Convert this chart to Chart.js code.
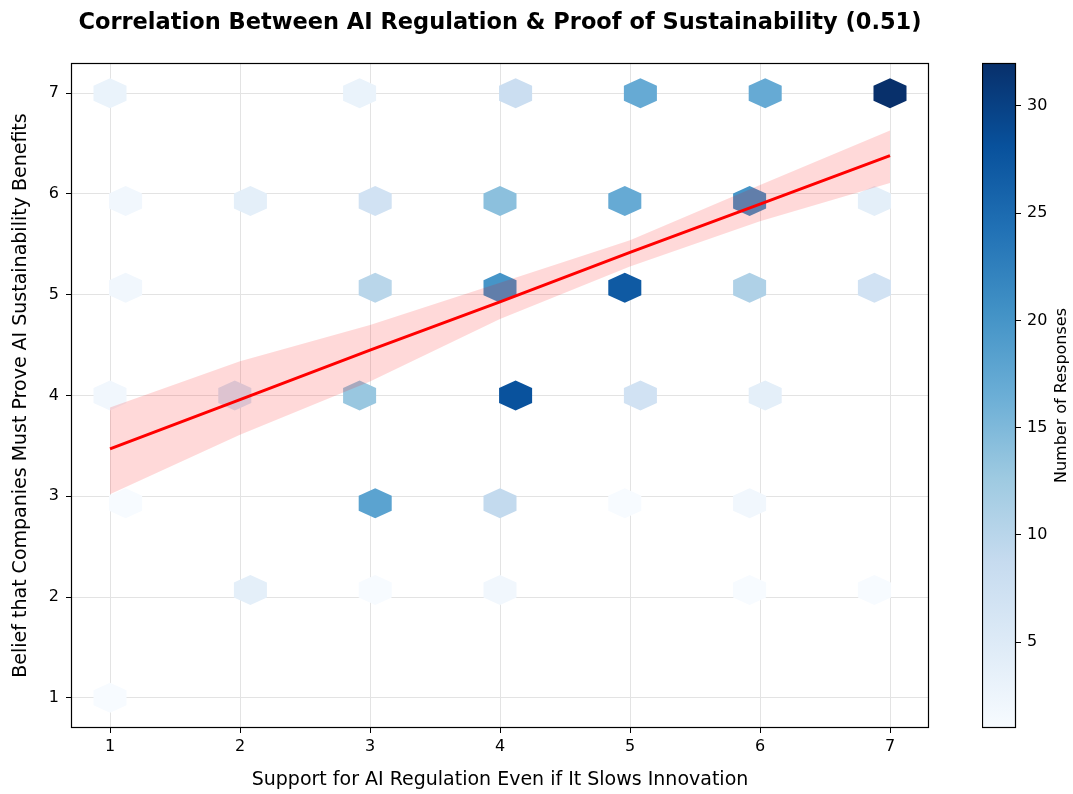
<!DOCTYPE html>
<html>
<head>
<meta charset="utf-8">
<script src="https://cdn.jsdelivr.net/npm/chart.js@4.4.1/dist/chart.umd.min.js"></script>
<style>
  html, body { margin: 0; padding: 0; background: #fff; }
  #wrap { position: relative; width: 1073px; height: 794px; }
  #main { position: absolute; left: 0; top: 0; width: 1073px; height: 794px; }
  #cbar { position: absolute; left: 982px; top: 0; width: 91px; height: 794px; }
</style>
</head>
<body>
<div id="wrap">
  <div id="main"><canvas id="chartHex"></canvas></div>
  <div id="cbar"><canvas id="chartBar"></canvas></div>
</div>
<script>
// valores
const xTicks = [1, 2, 3, 4, 5, 6, 7];
const yTicks = [1, 2, 3, 4, 5, 6, 7];
const cbarTicks = [5, 10, 15, 20, 25, 30];
const countMin = 1;
const countMax = 32;

// centros de los hexagonos y numero de respuestas
const hexX = [1.00, 2.92, 4.12, 5.08, 6.04, 7.00,
              1.12, 2.08, 3.04, 4.00, 4.96, 5.92, 6.88,
              1.12, 3.04, 4.00, 4.96, 5.92, 6.88,
              1.00, 1.96, 2.92, 4.12, 5.08, 6.04,
              1.12, 3.04, 4.00, 4.96, 5.92,
              2.08, 3.04, 4.00, 5.92, 6.88,
              1.00];
const hexY = [7.00, 7.00, 7.00, 7.00, 7.00, 7.00,
              5.93, 5.93, 5.93, 5.93, 5.93, 5.93, 5.93,
              5.07, 5.07, 5.07, 5.07, 5.07, 5.07,
              4.00, 4.00, 4.00, 4.00, 4.00, 4.00,
              2.93, 2.93, 2.93, 2.93, 2.93,
              2.07, 2.07, 2.07, 2.07, 2.07,
              1.00];
const hexCount = [3, 3, 8, 17, 17, 32,
                  2, 4, 7, 14, 17, 20, 4,
                  2, 10, 20, 27, 11, 7,
                  2, 6, 13, 28, 7, 4,
                  1, 18, 9, 1, 2,
                  4, 1, 2, 1, 1,
                  1];

// recta de regresion y banda de confianza
const fitX = [1, 2, 3, 4, 5, 6, 7];
const fitY = [3.47, 3.96, 4.45, 4.93, 5.42, 5.90, 6.38];
const fitUpper = [3.88, 4.34, 4.70, 5.12, 5.54, 6.09, 6.63];
const fitLower = [3.02, 3.61, 4.14, 4.76, 5.28, 5.73, 6.11];

Chart.defaults.font.family = "'DejaVu Sans', sans-serif";
Chart.defaults.color = "#000";

// mapa de color Blues
const blues = ["#f7fbff", "#deebf7", "#c6dbef", "#9ecae1", "#6baed6", "#4292c6", "#2171b5", "#08519c", "#08306b"];
function hexToRgb(h) {
  return [parseInt(h.slice(1, 3), 16), parseInt(h.slice(3, 5), 16), parseInt(h.slice(5, 7), 16)];
}
function bluesAt(v) {
  let t = (v - countMin) / (countMax - countMin);
  t = Math.max(0, Math.min(1, t)) * (blues.length - 1);
  const i = Math.min(Math.floor(t), blues.length - 2);
  const f = t - i;
  const a = hexToRgb(blues[i]), b = hexToRgb(blues[i + 1]);
  const c = a.map((ch, k) => Math.round(ch + (b[k] - ch) * f));
  return `rgb(${c[0]},${c[1]},${c[2]})`;
}

// tamaño del hexagono en unidades de datos
const HW = 0.127, HT = 0.149, HS = 0.074;

const hexPlugin = {
  id: "hexPlugin",
  beforeDatasetsDraw(chart) {
    const { ctx, chartArea, scales: { x, y } } = chart;
    ctx.save();
    ctx.beginPath();
    ctx.rect(chartArea.left, chartArea.top, chartArea.right - chartArea.left, chartArea.bottom - chartArea.top);
    ctx.clip();
    hexX.forEach((cx, i) => {
      const cy = hexY[i];
      const pts = [[cx, cy + HT], [cx + HW, cy + HS], [cx + HW, cy - HS],
                   [cx, cy - HT], [cx - HW, cy - HS], [cx - HW, cy + HS]];
      ctx.beginPath();
      pts.forEach((p, k) => {
        const px = x.getPixelForValue(p[0]), py = y.getPixelForValue(p[1]);
        if (k === 0) ctx.moveTo(px, py); else ctx.lineTo(px, py);
      });
      ctx.closePath();
      ctx.fillStyle = bluesAt(hexCount[i]);
      ctx.fill();
    });
    ctx.restore();
  }
};

const framePlugin = {
  id: "framePlugin",
  afterDraw(chart) {
    const { ctx, chartArea: a } = chart;
    ctx.save();
    ctx.strokeStyle = "#000";
    ctx.lineWidth = 1.2;
    ctx.strokeRect(Math.round(a.left) + 0.5, Math.round(a.top) + 0.5,
                   Math.round(a.right - a.left) - 1, Math.round(a.bottom - a.top) - 1);
    ctx.restore();
  }
};

new Chart(document.getElementById("chartHex"), {
  type: "scatter",
  data: {
    datasets: [
      {
        type: "line",
        label: "Regresión",
        data: fitX.map((v, i) => ({ x: v, y: fitY[i] })),
        borderColor: "#ff0000",
        borderWidth: 3,
        pointRadius: 0,
        fill: false
      },
      {
        type: "line",
        label: "IC superior",
        data: fitX.map((v, i) => ({ x: v, y: fitUpper[i] })),
        borderWidth: 0,
        borderColor: "rgba(0,0,0,0)",
        backgroundColor: "rgba(255,0,0,0.15)",
        pointRadius: 0,
        fill: "+1"
      },
      {
        type: "line",
        label: "IC inferior",
        data: fitX.map((v, i) => ({ x: v, y: fitLower[i] })),
        borderWidth: 0,
        borderColor: "rgba(0,0,0,0)",
        pointRadius: 0,
        fill: false
      },
      {
        label: "Respuestas",
        data: hexX.map((v, i) => ({ x: v, y: hexY[i] })),
        pointRadius: 0
      }
    ]
  },
  options: {
    responsive: true,
    maintainAspectRatio: false,
    animation: false,
    events: [],
    layout: { padding: { top: 0, left: 0, right: 144, bottom: 0 } },
    plugins: {
      legend: { display: false },
      tooltip: { enabled: false },
      title: {
        display: true,
        fullSize: false,
        text: "Correlation Between AI Regulation & Proof of Sustainability (0.51)",
        font: { size: 22.5, weight: "bold" },
        color: "#000",
        padding: { top: 10, bottom: 26 }
      }
    },
    scales: {
      x: {
        type: "linear",
        min: 0.7,
        max: 7.3,
        afterBuildTicks: s => { s.ticks = xTicks.map(v => ({ value: v })); },
        afterFit: s => { s.height = 66; },
        grid: { color: "#e3e3e3", tickColor: "#000", tickLength: 5 },
        border: { display: false },
        ticks: { padding: 4, font: { size: 16 }, color: "#000" },
        title: {
          display: true,
          text: "Support for AI Regulation Even if It Slows Innovation",
          font: { size: 19 },
          color: "#000",
          padding: { top: 0, bottom: 3 }
        }
      },
      y: {
        type: "linear",
        min: 0.7,
        max: 7.3,
        afterBuildTicks: s => { s.ticks = yTicks.map(v => ({ value: v })); },
        afterFit: s => { s.width = 71; },
        grid: { color: "#e3e3e3", tickColor: "#000", tickLength: 5 },
        border: { display: false },
        ticks: { padding: 7, font: { size: 16 }, color: "#000" },
        title: {
          display: true,
          text: "Belief that Companies Must Prove AI Sustainability Benefits",
          font: { size: 19 },
          color: "#000",
          padding: { top: 10, bottom: 0 }
        }
      }
    }
  },
  plugins: [hexPlugin, framePlugin]
});

// barra de color
const cbarLabelPlugin = {
  id: "cbarLabel",
  afterDraw(chart) {
    const { ctx, chartArea: a } = chart;
    ctx.save();
    ctx.translate(80, (a.top + a.bottom) / 2);
    ctx.rotate(-Math.PI / 2);
    ctx.textAlign = "center";
    ctx.textBaseline = "middle";
    ctx.fillStyle = "#000";
    ctx.font = "16px 'DejaVu Sans', sans-serif";
    ctx.fillText("Number of Responses", 0, 0);
    ctx.restore();
  }
};

new Chart(document.getElementById("chartBar"), {
  type: "bar",
  data: {
    labels: [""],
    datasets: [{
      data: [[countMin, countMax]],
      barPercentage: 1,
      categoryPercentage: 1,
      borderWidth: 0,
      backgroundColor: c => {
        const chart = c.chart;
        if (!chart.chartArea) return blues[0];
        const ys = chart.scales.y;
        const g = chart.ctx.createLinearGradient(0, ys.getPixelForValue(countMin), 0, ys.getPixelForValue(countMax));
        blues.forEach((col, i) => g.addColorStop(i / (blues.length - 1), col));
        return g;
      }
    }]
  },
  options: {
    responsive: true,
    maintainAspectRatio: false,
    animation: false,
    events: [],
    layout: { padding: { top: 63, bottom: 66, left: 0, right: 0 } },
    plugins: { legend: { display: false }, tooltip: { enabled: false } },
    scales: {
      x: { display: false },
      y: {
        position: "right",
        min: countMin,
        max: countMax,
        afterBuildTicks: s => { s.ticks = cbarTicks.map(v => ({ value: v })); },
        afterFit: s => { s.width = 57; },
        grid: { drawOnChartArea: false, tickColor: "#000", tickLength: 5 },
        border: { display: false },
        ticks: { padding: 6, font: { size: 16 }, color: "#000" }
      }
    }
  },
  plugins: [framePlugin, cbarLabelPlugin]
});
</script>
</body>
</html>
